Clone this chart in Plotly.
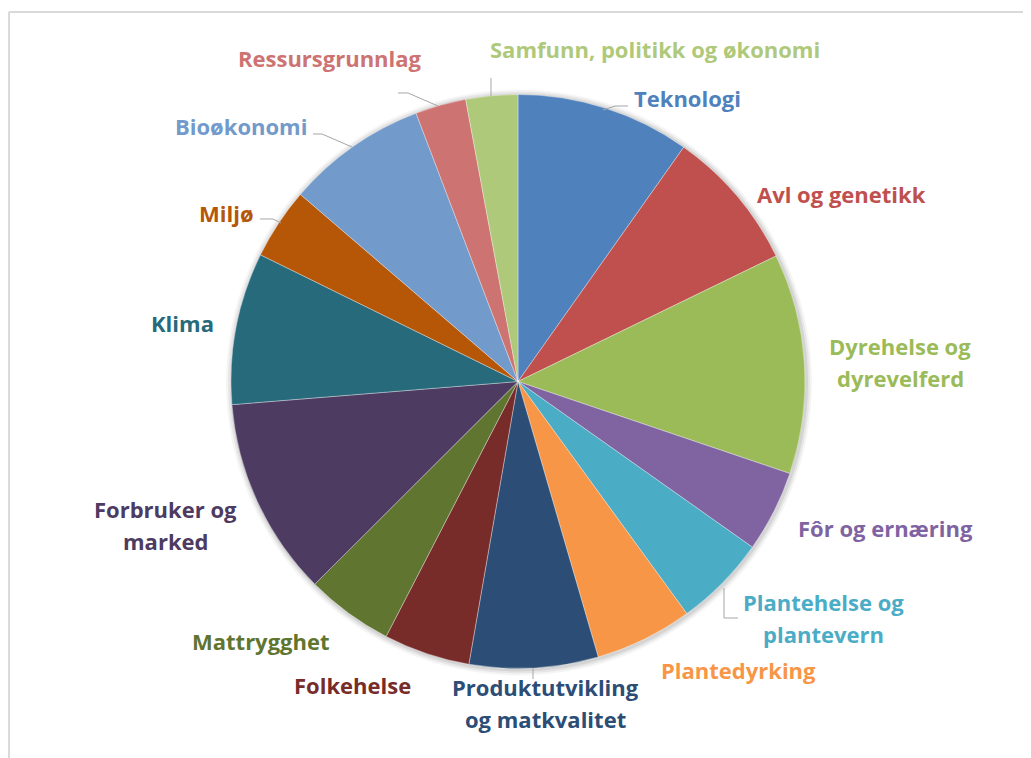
import plotly.graph_objects as go

categories = [
    "Teknologi", "Avl og genetikk", "Dyrehelse og dyrevelferd", "Fôr og ernæring",
    "Plantehelse og plantevern", "Plantedyrking", "Produktutvikling og matkvalitet",
    "Folkehelse", "Mattrygghet", "Forbruker og marked", "Klima", "Miljø",
    "Bioøkonomi", "Ressursgrunnlag", "Samfunn, politikk og økonomi",
]
values = [9.8, 8.0, 12.4, 4.6, 5.2, 5.5, 7.25, 4.86, 4.92, 11.2, 8.56, 4.03, 7.92, 2.86, 2.92]
colors = [
    "#4F81BD", "#C0504D", "#9BBB59", "#8064A2", "#4BACC6", "#F79646", "#2C4D75",
    "#772C2A", "#5F7530", "#4D3B62", "#276A7C", "#B65708", "#729ACA", "#CD7371", "#AFC97A",
]
# label display lines (line breaks as in the reference)
label_lines = [
    ["Teknologi"], ["Avl og genetikk"], ["Dyrehelse og", "dyrevelferd"], ["Fôr og ernæring"],
    ["Plantehelse og", "plantevern"], ["Plantedyrking"], ["Produktutvikling", "og matkvalitet"],
    ["Folkehelse"], ["Mattrygghet"], ["Forbruker og", "marked"], ["Klima"], ["Miljø"],
    ["Bioøkonomi"], ["Ressursgrunnlag"], ["Samfunn, politikk og økonomi"],
]

W, H = 1031, 758
OFF = 8  # page body margin of the browser
cx, cy, R = 518, 381.5, 287
LINE_GAP = 32

def px(x):
    return (x - OFF) / W

def py(y):
    return 1 - (y - OFF) / H

# label positions in window pixels (block center)
label_pos = [
    (687, 98), (841, 194), (900, 361.5), (885, 528), (823, 617.5), (738, 670),
    (545, 702.5), (352, 685), (261, 641), (165, 525), (182, 323), (226, 213),
    (241, 126), (330, 58), (655, 49),
]

fig = go.Figure()
fig.add_trace(go.Pie(
    labels=categories,
    values=values,
    sort=False,
    direction="clockwise",
    rotation=0,
    marker=dict(colors=colors, line=dict(color="rgba(255,255,255,0.7)", width=0.5)),
    textinfo="none",
    hoverinfo="label+percent",
    domain=dict(x=[px(cx - R), px(cx + R)], y=[py(cy + R), py(cy - R)]),
    showlegend=False,
))

annotations = []
for lines, (lx, ly), col in zip(label_lines, label_pos, colors):
    n = len(lines)
    for i, line in enumerate(lines):
        yy = ly + (i - (n - 1) / 2) * LINE_GAP
        annotations.append(dict(
            x=px(lx), y=py(yy), xref="paper", yref="paper",
            text=line, showarrow=False, xanchor="center", yanchor="middle",
            align="center",
            font=dict(family="Open Sans", size=22, color=col, weight="bold"),
        ))

shapes = []
# soft shadow behind pie
for off, op in [(6, 0.04), (4, 0.06), (2, 0.08)]:
    shapes.append(dict(
        type="circle", xref="paper", yref="paper", layer="below",
        x0=px(cx - R - off + 1), x1=px(cx + R + off + 1),
        y0=py(cy + R + off + 1), y1=py(cy - R - off + 1),
        fillcolor="rgba(0,0,0,%s)" % op, line=dict(width=0),
    ))

# leader lines (window pixel paths)
leaders = [
    [(491, 78), (491, 96)],                       # Samfunn
    [(398, 93), (408, 93), (438, 106)],           # Ressursgrunnlag
    [(313, 134), (322, 134), (352, 147)],         # Bioøkonomi
    [(260, 219), (273, 219), (281, 223)],         # Miljø
    [(628, 106), (615, 106), (603, 110)],         # Teknologi
    [(724, 588), (724, 618), (738, 618)],         # Plantehelse
    [(533, 668), (533, 679)],                     # Produktutvikling
]
for pts in leaders:
    d = "M " + " L ".join("%f,%f" % (px(x), py(y)) for x, y in pts)
    shapes.append(dict(type="path", xref="paper", yref="paper", path=d,
                       line=dict(color="#A6A6A6", width=1)))

# chart border (top and left)
shapes.append(dict(type="line", xref="paper", yref="paper",
                   x0=0.001, x1=1, y0=py(12), y1=py(12),
                   line=dict(color="#D9D9D9", width=2)))
shapes.append(dict(type="line", xref="paper", yref="paper",
                   x0=0.001, x1=0.001, y0=py(12), y1=0,
                   line=dict(color="#D9D9D9", width=2)))

fig.update_layout(
    width=W, height=H,
    margin=dict(l=0, r=0, t=0, b=0),
    paper_bgcolor="white", plot_bgcolor="white",
    annotations=annotations, shapes=shapes,
    showlegend=False,
)

fig.write_html("out.html")
